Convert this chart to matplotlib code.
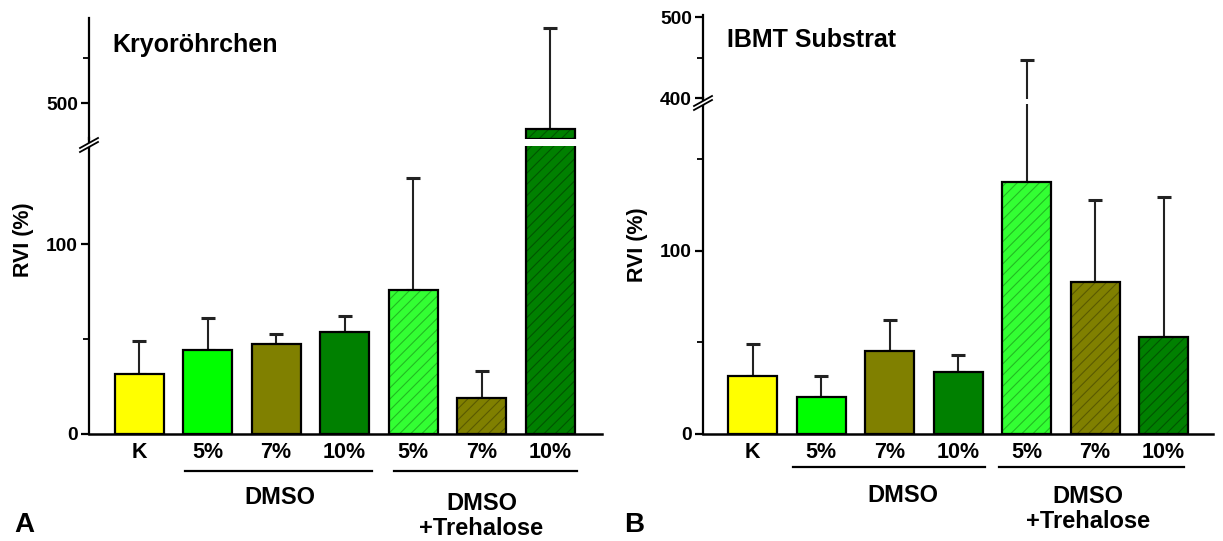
import matplotlib
matplotlib.use("Agg")
import matplotlib.pyplot as plt
from matplotlib.lines import Line2D
from matplotlib.patches import Polygon

plt.rcParams['font.family'] = ['Liberation Sans', 'DejaVu Sans']
plt.rcParams['font.weight'] = 'bold'
plt.rcParams['hatch.linewidth'] = 0.8

# ---------------- data ----------------
categories = ["K", "5%", "7%", "10%", "5%", "7%", "10%"]
groups = ["DMSO", "DMSO\n+Trehalose"]
fill_colors = ["#FFFF00", "#00FF00", "#808000", "#008000", "#33FF33", "#808000", "#008000"]
hatch_colors = [None, None, None, None, "#22bb22", "#5a5a00", "#005500"]

titles = ["Kryoröhrchen", "IBMT Substrat"]
panel_letters = ["A", "B"]

# panel A (Kryoröhrchen)
values_A = [31.6, 44.2, 47.4, 53.7, 75.8, 19.0, 442.0]
errors_A = [17.3, 16.8, 5.2, 8.4, 59.2, 14.0, 225.0]
# panel B (IBMT Substrat)
values_B = [31.7, 20.2, 45.4, 33.9, 137.7, 83.0, 53.0]
errors_B = [17.5, 11.5, 16.9, 9.3, 309.3, 45.0, 76.5]

W, H = 1223, 541
fig = plt.figure(figsize=(W / 100, H / 100), dpi=100)


def fx(px):
    return px / W


def fy(py):
    return 1 - py / H


def make_axes(x0, x1, y0, y1):
    return fig.add_axes([fx(x0), fy(y1), fx(x1) - fx(x0), fy(y0) - fy(y1)])


panels = [
    dict(values=values_A, errors=errors_A, xl=89, xr=602, c0=139.0, step=68.5,
         low=(146, 434, 0, 151.6), up=(18, 139, 420, 689),
         low_major=[0, 100], low_minor=[50], up_major=[500], up_minor=[600],
         brk_y=143, lab_y=453, line_y=470.5, grp_y=[497, 516],
         lines=[(0.67, 3.4), (3.72, 6.4)], grp_x=[2.06, 5.0],
         title_xy=(112, 45), letter_xy=(24, 525), ylab_xy=(24, 240)),
    dict(values=values_B, errors=errors_B, xl=703, xr=1213, c0=752.5, step=68.5,
         low=(104, 434, 0, 180.3), up=(15, 99, 398.8, 502.5),
         low_major=[0, 100], low_minor=[50, 150], up_major=[400, 500], up_minor=[450],
         brk_y=101, lab_y=452, line_y=467, grp_y=[495, 509],
         lines=[(0.59, 3.39), (3.6, 6.3)], grp_x=[2.2, 4.9],
         title_xy=(727, 40), letter_xy=(634, 525), ylab_xy=(638, 245)),
]

bar_w = 49 / 68.5
tick_fs = 13.8

for pi, p in enumerate(panels):
    xlim = ((p['xl'] - p['c0']) / p['step'], (p['xr'] - p['c0']) / p['step'])
    ytop, ybot, vlo, vhi = p['low']
    ax_lo = make_axes(p['xl'], p['xr'], ytop, ybot)
    uytop, uybot, uvlo, uvhi = p['up']
    ax_up = make_axes(p['xl'], p['xr'], uytop, uybot)
    ax_lo.set_ylim(vlo, vhi)
    ax_up.set_ylim(uvlo, uvhi)
    xs = list(range(len(categories)))
    for ax, bottom in ((ax_lo, 0), (ax_up, uvlo + 0.4)):
        ax.set_xlim(*xlim)
        ax.patch.set_alpha(0)
        vals = p['values']
        errs = p['errors']
        for i, (v, e) in enumerate(zip(vals, errs)):
            if v <= bottom:
                continue
            if hatch_colors[i] is not None:
                ax.bar(xs[i], v - bottom, width=bar_w, bottom=bottom, color=fill_colors[i],
                       edgecolor=hatch_colors[i], hatch='///', linewidth=0, zorder=2)
                ax.bar(xs[i], v - bottom, width=bar_w, bottom=bottom, facecolor='none',
                       edgecolor='black', linewidth=1.6, zorder=3)
            else:
                ax.bar(xs[i], v - bottom, width=bar_w, bottom=bottom, color=fill_colors[i],
                       edgecolor='black', linewidth=1.6, zorder=3)
        ax.errorbar(xs, vals, yerr=[[0] * len(vals), errs], fmt='none', ecolor='#222222',
                    elinewidth=1.5, capsize=5, capthick=2.2, zorder=1)
        ax.set_xticks([])
        for s in ('top', 'right'):
            ax.spines[s].set_visible(False)
        ax.spines['left'].set_linewidth(1.6)
        ax.tick_params(axis='y', which='major', length=6, width=1.6, direction='out',
                       labelsize=tick_fs, pad=2)
        ax.tick_params(axis='y', which='minor', length=4, width=1.3, direction='out')
    ax_lo.spines['bottom'].set_linewidth(1.8)
    ax_up.spines['bottom'].set_visible(False)
    ax_lo.set_yticks(p['low_major'])
    ax_lo.set_yticks(p['low_minor'], minor=True)
    ax_up.set_yticks(p['up_major'])
    ax_up.set_yticks(p['up_minor'], minor=True)
    for ax in (ax_lo, ax_up):
        for lab in ax.get_yticklabels():
            lab.set_fontweight('bold')

    # continuous spine across the gap
    fig.add_artist(Line2D([fx(p['xl']), fx(p['xl'])], [fy(ytop + 1), fy(uybot - 1)],
                          color='black', lw=1.6))
    # break marks
    bx, by = p['xl'], p['brk_y']
    poly = Polygon([(fx(bx - 9), fy(by + 5)), (fx(bx + 9), fy(by - 5)),
                    (fx(bx + 9), fy(by - 1)), (fx(bx - 9), fy(by + 9))],
                   closed=True, transform=fig.transFigure, facecolor='white',
                   edgecolor='none', zorder=10)
    fig.add_artist(poly)
    for dy in (-2, 2):
        fig.add_artist(Line2D([fx(bx - 9), fx(bx + 9)], [fy(by + 7 + dy), fy(by - 3 + dy)],
                              color='black', lw=1.3, zorder=11))

    # category labels
    for i, c in enumerate(categories):
        xc = p['c0'] + p['step'] * i
        fig.text(fx(xc), fy(p['lab_y']), c, ha='center', va='center', fontsize=15.5,
                 fontweight='bold')
    # group underlines and labels
    for (a, b) in p['lines']:
        fig.add_artist(Line2D([fx(p['c0'] + p['step'] * a), fx(p['c0'] + p['step'] * b)],
                              [fy(p['line_y']), fy(p['line_y'])], color='black', lw=1.6))
    fig.text(fx(p['c0'] + p['step'] * p['grp_x'][0]), fy(p['grp_y'][0]), groups[0],
             ha='center', va='center', fontsize=17, fontweight='bold')
    fig.text(fx(p['c0'] + p['step'] * p['grp_x'][1]), fy(p['grp_y'][1]), groups[1],
             ha='center', va='center', fontsize=17, fontweight='bold', linespacing=1.15)

    fig.text(fx(p['title_xy'][0]), fy(p['title_xy'][1]), titles[pi], ha='left', va='center',
             fontsize=18, fontweight='bold')
    fig.text(fx(p['letter_xy'][0]), fy(p['letter_xy'][1]), panel_letters[pi], ha='center',
             va='center', fontsize=20, fontweight='bold')
    fig.text(fx(p['ylab_xy'][0]), fy(p['ylab_xy'][1]), "RVI (%)", ha='center', va='center',
             rotation=90, fontsize=15.5, fontweight='bold')

fig.savefig("out.png", dpi=100)
